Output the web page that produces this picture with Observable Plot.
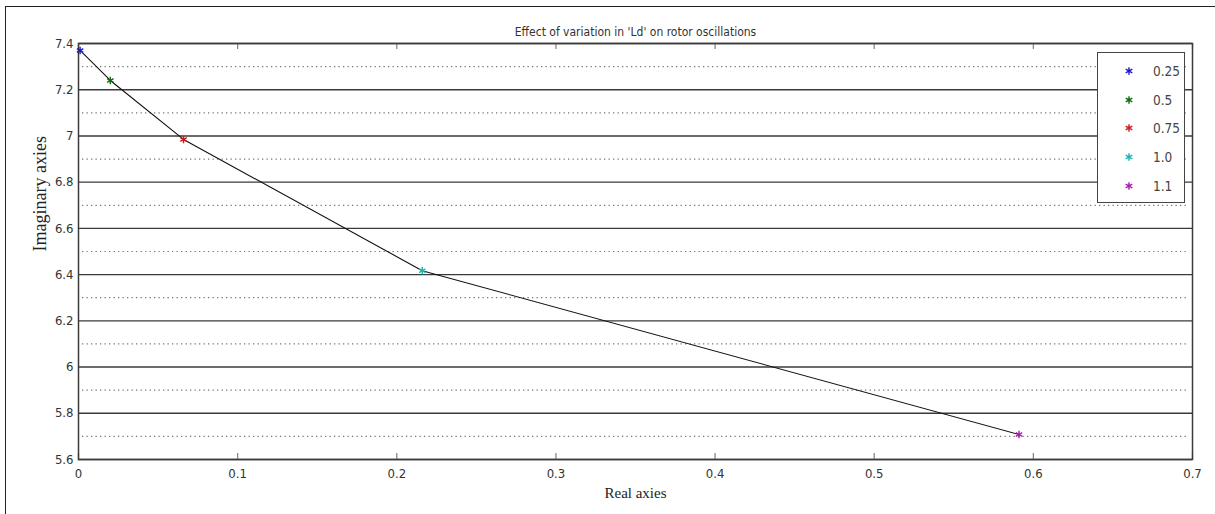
<!DOCTYPE html>
<html>
<head>
<meta charset="utf-8">
<script src="https://cdn.jsdelivr.net/npm/d3@7"></script>
<script src="https://cdn.jsdelivr.net/npm/@observablehq/plot@0.6"></script>
<style>
  html, body { margin: 0; padding: 0; background: #fff; }
  #wrap { position: relative; width: 1215px; height: 514px; overflow: hidden; }
  #page-border { position: absolute; left: 5px; top: 6px; width: 1230px; height: 530px; border: 1.5px solid #222; box-sizing: border-box; pointer-events: none; }
  #legend { position: absolute; left: 1097px; top: 52px; width: 88px; height: 151px; border: 1px solid #444; background: #fff; box-sizing: border-box; font-family: "DejaVu Sans Condensed", "Liberation Sans Narrow", sans-serif; font-size: 13.5px; color: #444; }
  .entry { position: absolute; left: 0; height: 20px; display: flex; align-items: center; }
  .entry svg { margin-left: 26px; }
  .entry span { margin-left: 19px; }
</style>
</head>
<body>
<div id="wrap">
  <div id="chart"></div>
  <div id="page-border"></div>
  <div id="legend"></div>
</div>
<script>
// Data
const seriesLabels = ["0.25", "0.5", "0.75", "1.0", "1.1"];
const realValues = [0.001, 0.020, 0.066, 0.216, 0.591];
const imagValues = [7.37, 7.24, 6.985, 6.417, 5.708];
const seriesColors = ["#1a1acc", "#0a6e0a", "#cc1a1a", "#1ab5b5", "#b01ab0"];

const xTicks = [0, 0.1, 0.2, 0.3, 0.4, 0.5, 0.6, 0.7];
const yMajor = [5.6, 5.8, 6.0, 6.2, 6.4, 6.6, 6.8, 7.0, 7.2, 7.4];
const yMinor = [5.7, 5.9, 6.1, 6.3, 6.5, 6.7, 6.9, 7.1, 7.3];

const titleText = "Effect of variation in 'Ld' on rotor oscillations";
const xTitle = "Real axies";
const yTitle = "Imaginary axies";

const points = seriesLabels.map((s, i) => ({ label: s, x: realValues[i], y: imagValues[i], color: seriesColors[i] }));

const sansNarrow = "'DejaVu Sans Condensed', 'Liberation Sans Narrow', sans-serif";
const serif = "'Liberation Serif', 'DejaVu Serif', serif";

const chart = Plot.plot({
  width: 1215,
  height: 514,
  marginLeft: 78,
  marginRight: 23,
  marginTop: 43,
  marginBottom: 55,
  style: { fontFamily: sansNarrow, fontSize: "13px", color: "#333", background: "transparent" },
  x: { domain: [0, 0.7] },
  y: { domain: [5.6, 7.4] },
  marks: [
    Plot.ruleY(yMinor, { stroke: "#777", strokeWidth: 1.2, strokeDasharray: "1.3,3.2", insetLeft: 4, insetRight: 4 }),
    Plot.ruleY(yMajor, { stroke: "#3a3a3a", strokeWidth: 1.4 }),
    Plot.ruleX(xTicks, { stroke: "#888", strokeWidth: 1.3, insetTop: 410 }),
    Plot.ruleX(xTicks, { stroke: "#888", strokeWidth: 1.3, insetBottom: 410 }),
    Plot.frame({ stroke: "#3a3a3a", strokeWidth: 1.5 }),
    Plot.axisX(xTicks, { tickSize: 0, tickPadding: 9, label: null, tickFormat: d => String(d), fontSize: 13, fill: "#333" }),
    Plot.axisY(yMajor, { tickSize: 0, tickPadding: 5, label: null, tickFormat: d => String(+d.toFixed(1)), fontSize: 13, fill: "#333" }),
    Plot.line(points, { x: "x", y: "y", stroke: "#111", strokeWidth: 1.1 }),
    Plot.dot(points, { x: "x", y: "y", stroke: "color", symbol: "asterisk", r: 3.5, strokeWidth: 1.4 }),
    Plot.text([titleText], { frameAnchor: "top", dy: -16, text: d => d, fontSize: 12, fill: "#333", fontFamily: sansNarrow }),
    Plot.text([xTitle], { frameAnchor: "bottom", dy: 38, text: d => d, fontSize: 15, fill: "#222", fontFamily: serif }),
    Plot.text([yTitle], { frameAnchor: "left", dx: -38, rotate: -90, text: d => d, fontSize: 18, fill: "#222", fontFamily: serif })
  ]
});
document.getElementById("chart").appendChild(chart);

// Legend
const legend = document.getElementById("legend");
seriesLabels.forEach((s, i) => {
  const e = document.createElement("div");
  e.className = "entry";
  e.style.top = (8 + i * 28.7) + "px";
  const sym = d3.create("svg").attr("width", 10).attr("height", 10);
  sym.append("path").attr("transform", "translate(5,5)")
    .attr("d", d3.symbol(d3.symbolAsterisk, 40)())
    .attr("stroke", seriesColors[i]).attr("stroke-width", 1.4).attr("fill", "none");
  e.appendChild(sym.node());
  const t = document.createElement("span");
  t.textContent = s;
  e.appendChild(t);
  legend.appendChild(e);
});
</script>
</body>
</html>
